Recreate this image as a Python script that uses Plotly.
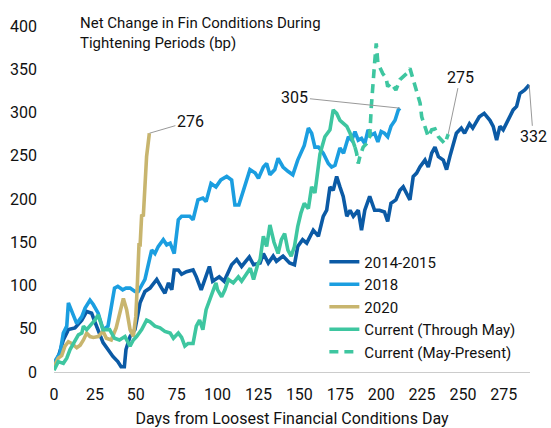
import plotly.graph_objects as go

# ---- data (days from loosest financial conditions day, net change in bp) ----
d_1415 = [0, 3, 5.7, 8.8, 12.8, 15, 17, 20, 23, 25, 28, 30, 33, 36, 39, 41, 43, 44, 46.5, 49.5,
          52.6, 55.6, 58.7, 62.8, 65.8, 67.8, 70, 72, 73.5, 76, 78, 81, 85, 87, 90, 93, 95, 97,
          101, 104, 108.6, 111.7, 114.7, 119.4, 122, 126, 128, 131, 134, 136, 140, 144, 147, 149,
          152, 154.5, 158.5, 161.6, 164.6, 166.7, 168.7, 170.7, 172.8, 174.8, 176.8, 179, 181,
          183, 186, 188, 190, 193, 196, 199, 202, 204, 206, 209, 211.5, 213.5, 215.6, 217.6,
          219.6, 221.7, 223.7, 226.8, 228.8, 230.9, 232.9, 235, 238, 240, 242, 244, 246, 249,
          251, 254, 256, 260, 263, 266.5, 268.5, 270.6, 272.6, 274.6, 277.7, 280.7, 282.8,
          284.8, 287.8, 290.5]
v_1415 = [6, 20, 37, 49, 51, 55, 60, 70, 68, 58, 45, 34, 26, 18, 12, 6, 6, 26, 41, 49,
          80, 93, 97, 107, 97, 91, 103, 95, 118, 118, 113, 116, 118, 110, 95, 110, 122, 105,
          110, 105, 124, 130, 122, 133, 124, 126, 137, 126, 134, 128, 134, 126, 124, 145,
          153, 149, 164, 157, 180, 187, 214, 210, 226, 214, 203, 180, 187,
          180, 187, 164, 187, 203, 187, 187, 185, 174, 195, 199, 210, 214, 207, 199,
          226, 230, 237, 245, 237, 253, 260, 249, 245, 234, 249, 264, 276, 282,
          276, 287, 282, 295, 299, 291, 284, 268, 284, 280, 291, 303, 307,
          322, 326, 332]

d_2018 = [0, 3.7, 5.7, 7.8, 8.8, 10.8, 13.9, 17, 19, 22, 24, 27, 30, 33, 35, 37, 39, 42, 44,
          46.5, 49.5, 51.5, 55.6, 57.6, 59.7, 61.7, 63.7, 66.8, 68.9, 71, 73.5, 76, 78, 81, 83,
          85, 88, 91, 93, 96, 99, 102, 105.6, 108.6, 110.6, 113, 114.7, 116.7, 119.8, 123, 125,
          128, 130, 132, 135, 137, 140, 143, 146, 149, 151, 153, 155.5, 157.5, 159.5, 161.6,
          164.6, 167.7, 169.7, 171.8, 174.8, 177, 180, 182, 184, 186, 188, 190, 192, 194, 196,
          198, 200, 202, 204, 206, 208.5, 210.5, 211.5]
v_2018 = [11, 22, 45, 53, 80, 70, 56, 64, 74, 83, 78, 68, 49, 53, 76, 97, 99, 95, 97,
          97, 93, 93, 107, 126, 141, 137, 145, 153, 147, 149, 137, 176, 180, 180, 180,
          176, 199, 201, 197, 218, 214, 222, 226, 222, 193, 193, 203, 218, 234, 230, 224,
          237, 241, 228, 234, 247, 237, 232, 228, 245, 253, 262, 282, 276, 260, 260,
          253, 241, 237, 239, 259, 253, 272, 268, 278, 268, 270, 264, 280, 274, 276,
          266, 278, 276, 272, 284, 291, 303, 305]

d_2020 = [0, 2.6, 4.7, 6.7, 8.8, 10.8, 13.9, 16, 18, 20, 22, 24, 27, 30, 32, 35, 38, 40, 42.4,
          44.4, 46.5, 48.5, 50, 51, 52, 52.6, 53.6, 54.6, 55.6, 56.6, 58.3]
v_2020 = [6, 16, 19, 30, 35, 33, 28, 31, 37, 45, 41, 40, 41, 47, 39, 37, 51, 68, 85,
          72, 49, 41, 64, 103, 149, 145, 182, 180, 210, 249, 276]

d_cur = [0, 2.6, 5.7, 7.8, 9.8, 11.8, 14.9, 17, 18, 20, 23, 25, 27, 28, 30, 32, 34, 37, 40,
         43.4, 46.5, 48.5, 50.5, 53.6, 56.6, 58.7, 61.7, 64.8, 67.8, 71, 73, 76, 78, 80, 82,
         85, 87, 89, 91, 93, 96, 99, 100, 102.5, 104.5, 106.6, 109.6, 112.7, 114.7, 117.8,
         120, 122, 124.5, 126, 128, 130, 132, 134.5, 137, 139, 141, 143, 145, 147, 149, 151,
         153, 155.5, 157.5, 159.5, 161.6, 162.6, 165.6, 168.7, 170.7, 172.8, 174.8, 177, 179,
         181, 183, 184]
v_cur = [2, 12, 10, 16, 26, 33, 43, 45, 53, 49, 55, 60, 66, 60, 49, 49, 49, 39, 37,
         41, 30, 37, 41, 49, 60, 58, 53, 51, 47, 45, 39, 45, 40, 30, 33,
         33, 53, 60, 49, 72, 87, 103, 95, 87, 95, 107, 103, 110, 105, 114,
         120, 107, 124, 130, 157, 145, 170, 150, 137, 153, 160, 141, 134, 145, 168, 184,
         195, 189, 214, 207, 241, 252, 272, 280, 303, 299, 291, 287, 284,
         276, 264, 260]

d_may = [184, 185, 186, 187, 189, 191, 193, 194, 196, 197, 198, 199, 201, 203, 204, 206, 209,
         211.5, 213.5, 215.6, 217.6, 219.6, 221, 223.8, 224.8, 226.8, 228.8, 230.9, 232.9,
         235, 237, 239, 241]
v_may = [260, 253, 241, 249, 260, 264, 272, 307, 357, 380, 357, 353, 345, 340, 330, 334, 326,
         338, 341, 345, 351, 338, 326, 311, 295, 284, 272, 280, 281,
         272, 268, 264, 275]

x_ticks = [0, 25, 50, 75, 100, 125, 150, 175, 200, 225, 250, 275]
y_ticks = [0, 50, 100, 150, 200, 250, 300, 350, 400]

C_1415 = "#0b5aa5"
C_2018 = "#1b9ee0"
C_2020 = "#c8b56e"
C_CUR = "#3ec6a0"

FONT = "Roboto, 'Noto Sans', sans-serif"
LW = 3.6

fig = go.Figure()
fig.add_trace(go.Scatter(x=d_1415, y=v_1415, mode="lines", name="2014-2015",
                         line=dict(color=C_1415, width=LW)))
fig.add_trace(go.Scatter(x=d_2018, y=v_2018, mode="lines", name="2018",
                         line=dict(color=C_2018, width=LW)))
fig.add_trace(go.Scatter(x=d_2020, y=v_2020, mode="lines", name="2020",
                         line=dict(color=C_2020, width=LW)))
fig.add_trace(go.Scatter(x=d_cur, y=v_cur, mode="lines", name="Current (Through May)",
                         line=dict(color=C_CUR, width=LW)))
fig.add_trace(go.Scatter(x=d_may, y=v_may, mode="lines", name="Current (May-Present)",
                         line=dict(color=C_CUR, width=LW, dash="9px,6px")))

ann_style = dict(showarrow=True, arrowhead=0, arrowwidth=1, arrowcolor="#999999",
                 font=dict(size=16, color="#111111"), axref="pixel", ayref="pixel")
fig.add_annotation(x=d_2020[-1], y=v_2020[-1], text=str(v_2020[-1]), ax=41, ay=-12, **ann_style)
fig.add_annotation(x=d_2018[-1], y=v_2018[-1], text=str(v_2018[-1]), ax=-105, ay=-11, **ann_style)
fig.add_annotation(x=d_may[-1], y=v_may[-1], text=str(v_may[-1]), ax=12, ay=-57, **ann_style)
fig.add_annotation(x=d_1415[-1], y=v_1415[-1], text=str(v_1415[-1]), ax=4, ay=52, **ann_style)

fig.add_annotation(xref="paper", yref="paper", x=0.05, y=1.04, xanchor="left", yanchor="top",
                   align="left", showarrow=False,
                   text="Net Change in Fin Conditions During<br>Tightening Periods (bp)",
                   font=dict(size=15, color="#111111"))

fig.update_layout(
    width=551, height=428,
    margin=dict(l=54, r=21, t=26, b=56),
    paper_bgcolor="white", plot_bgcolor="white",
    font=dict(family=FONT, size=16, color="#111111"),
    showlegend=True,
    legend=dict(x=0.568, y=0.01, xanchor="left", yanchor="bottom",
                bgcolor="rgba(0,0,0,0)", font=dict(size=15, color="#111111"),
                tracegroupgap=0, itemwidth=30),
    xaxis=dict(range=[0, 291], tickvals=x_ticks, ticktext=[str(t) for t in x_ticks],
               showgrid=False, zeroline=False, showline=True, linecolor="#cccccc",
               linewidth=1, ticks="", ticklabelstandoff=8, automargin=False,
               title=dict(text="Days from Loosest Financial Conditions Day",
                          font=dict(size=16), standoff=14)),
    yaxis=dict(range=[0, 400], tickvals=y_ticks, ticktext=[str(t) for t in y_ticks],
               showgrid=False, zeroline=False, showline=False, ticks="",
               ticklabelstandoff=16, automargin=False),
)

fig.write_html("out.html", post_script="document.body.style.margin='0';",
               config={"displayModeBar": False})
